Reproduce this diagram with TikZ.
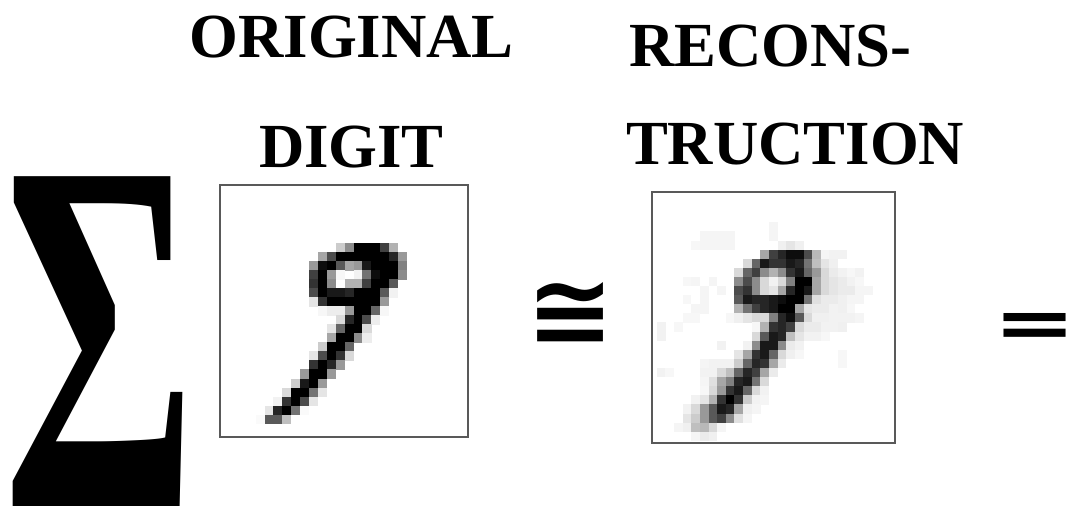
\documentclass[tikz,border=0pt]{standalone}
\usepackage{fontspec}
\usetikzlibrary{calc}
\newfontfamily\headfont{Liberation Serif}
\newfontfamily\symfont{Liberation Serif}
\newfontfamily\relfont{DejaVu Sans}

\begin{document}
\begin{tikzpicture}[
  x=1bp, y=-1bp,
  every node/.style={inner sep=0pt, outer sep=0pt},
  head/.style={anchor=base west, font=\headfont\bfseries\fontsize{63}{76}\selectfont},
  imgbox/.style={draw=black!65, line width=1.2bp, anchor=north west}
]
\useasboundingbox (0,0) rectangle (1069,509);
\clip (0,0) rectangle (1069,509);

% ---- Sum sign ----
\node[anchor=north west] (sigma) at (3,177)
  {\resizebox{193bp}{329bp}{\symfont\bfseries Σ}};

% ---- Headings ----
\node[head] (origA) at (189.5,58) {ORIGINAL};
\node[head] (origB) at (259,168) {DIGIT};
\node[head] (recA) at (629,67) {RECONS-};
\node[head] (recB) at (626,165) {TRUCTION};

% ---- Image frames ----
\node[imgbox, minimum width=248bp, minimum height=252bp] (orig) at (220,185) {};
\node[imgbox, minimum width=243bp, minimum height=251bp] (recon) at (652,192) {};

% ---- Original digit (row/{col/darkness}) ----
\begin{scope}[shift={(orig.north west)}]
\foreach \r/\cs in {
  6/{13/20,14/45,15/100,16/100,17/100,18/75,19/30},
  7/{11/35,12/70,13/100,14/100,15/100,16/100,17/100,18/100,19/85,20/40},
  8/{10/40,11/95,12/100,13/65,14/35,15/40,16/90,17/100,18/100,19/100,20/50},
  9/{10/75,11/100,12/40,13/3,15/5,16/55,17/95,18/100,19/100,20/45},
  10/{10/80,11/100,12/45,14/30,15/30,16/75,17/100,18/100,19/65},
  11/{10/70,11/100,12/90,13/90,14/85,15/100,16/100,17/100,18/65,19/5},
  12/{10/10,11/80,12/100,13/100,14/100,15/100,16/100,17/100,18/40},
  13/{11/3,12/7,13/7,14/40,15/100,16/100,17/60,18/3},
  14/{13/15,14/85,15/100,16/70,17/7},
  15/{12/10,13/60,14/100,15/100,16/15},
  16/{12/35,13/100,14/100,15/45,16/7},
  17/{11/20,12/100,13/100,14/60},
  18/{10/10,11/70,12/100,13/80,14/15},
  19/{10/80,11/100,12/85,13/40},
  20/{9/40,10/100,11/100,12/40},
  21/{8/20,9/90,10/100,11/40},
  22/{7/15,8/100,9/100,10/55,11/10},
  23/{6/5,7/80,8/100,9/70,10/10},
  24/{5/10,6/85,7/100,8/55,9/2},
  25/{4/2,5/65,6/65,7/25}}
  \foreach \c/\v in \cs
    \fill[black!\v] (\c*8.9, \r*9+4.5) rectangle ++(9.1,9.2);
\end{scope}

% ---- Reconstruction ----
\begin{scope}[shift={(recon.north west)}]
\foreach \r/\cs in {
  3/{14/4},
  4/{6/4,7/4,8/4,9/4,14/4},
  5/{5/3,6/4,7/4,8/4,9/4,15/6,16/10,17/6},
  6/{13/35,14/75,15/85,16/95,17/95,18/70,19/28,20/4,21/5,22/5},
  7/{11/15,12/60,13/90,14/80,15/80,16/90,17/85,18/55,19/25,20/10,21/6},
  8/{10/15,11/60,12/75,13/45,14/30,15/45,16/80,17/90,18/60,19/40,20/15,21/8,22/5,23/3,24/5},
  9/{4/3,5/4,7/4,10/45,11/70,12/45,13/15,14/5,15/15,16/50,17/100,18/100,19/35,20/15,21/10,22/8,23/5,24/3},
  10/{6/4,8/4,10/70,11/80,12/45,13/15,14/10,15/35,16/85,17/100,18/90,19/35,20/15,21/10,22/8,23/8,24/4,25/4},
  11/{4/3,6/4,10/65,11/90,12/85,13/85,14/90,15/95,16/100,17/100,18/55,19/12,20/8,21/8,22/6,23/4,24/4},
  12/{5/4,6/4,10/30,11/55,12/75,13/85,14/90,15/100,16/100,17/35,18/10,19/8,20/8,21/5,22/6,23/3},
  13/{4/3,5/3,9/3,10/6,11/10,12/15,13/15,14/50,15/85,16/95,17/65,18/15,19/6,20/6,21/5,22/5,23/5,24/4},
  14/{1/5,3/3,12/3,13/30,14/80,15/85,16/75,17/15,18/8,19/8,20/5,21/5,22/6},
  15/{1/5,12/15,13/65,14/90,15/85,16/25,17/10,18/5,19/5,20/3},
  16/{8/5,11/5,12/45,13/90,14/90,15/45,16/8,17/5},
  17/{10/10,11/35,12/80,13/90,14/60,15/15,16/6,17/3,22/3},
  18/{6/4,7/5,8/5,9/5,10/20,11/60,12/85,13/80,14/35,15/8,22/3},
  19/{1/5,2/3,6/5,7/5,8/15,9/25,10/60,11/85,12/75,13/35,14/8},
  20/{6/4,7/12,8/35,9/50,10/85,11/90,12/55,13/15},
  21/{6/3,7/15,8/40,9/80,10/90,11/60,12/15,13/5},
  22/{5/5,6/10,7/30,8/80,9/100,10/80,11/20,12/5,13/4},
  23/{4/5,5/15,6/40,7/65,8/90,9/85,10/35,11/6,12/4},
  24/{4/10,5/20,6/40,7/65,8/75,9/45,10/12,11/4},
  25/{3/4,4/6,5/25,6/28,7/15,8/4},
  26/{5/4,6/8,7/6}}
  \foreach \c/\v in \cs
    \fill[black!\v] (\c*8.633-3.9, \r*9.1+3.1) rectangle ++(8.8,9.3);
\end{scope}

% ---- Relation signs ----
\node[anchor=north west] (approx) at (526,282)
  {\resizebox{88bp}{63bp}{\relfont\bfseries ≅}};
\node[anchor=north west] (equal) at (993,313)
  {\resizebox{83bp}{34bp}{\relfont\bfseries =}};

\end{tikzpicture}
\end{document}
